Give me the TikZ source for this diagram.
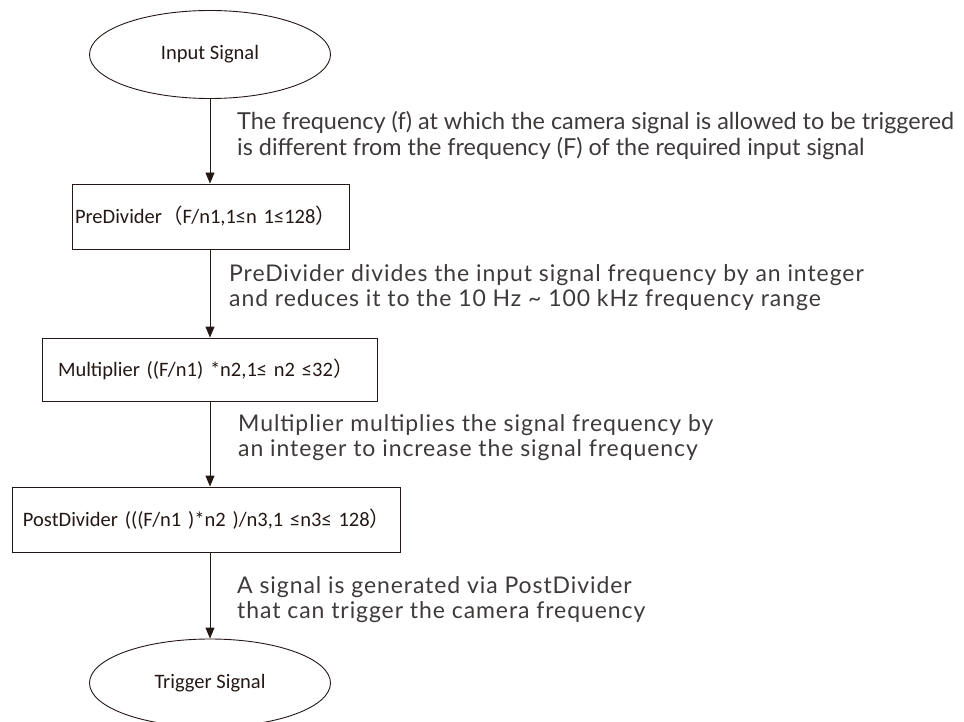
\documentclass[tikz,border=0pt]{standalone}
\usepackage{fontspec}
\setmainfont{Carlito}
\newfontfamily\labfont{Lato}
\newfontfamily\cjk{Noto Sans CJK SC}
\usetikzlibrary{arrows.meta,shapes.geometric}
\definecolor{ink}{HTML}{231815}
\definecolor{labgray}{HTML}{3E3A39}
\begin{document}
\begin{tikzpicture}[x=1pt,y=-1pt,
  flow/.style={draw=ink, line width=0.9pt, -{Triangle[length=11pt,width=9pt]}},
  term/.style={draw=ink, line width=0.9pt, ellipse, inner sep=0pt,
    minimum width=241pt, minimum height=88pt, text=ink,
    font=\fontsize{20.5}{24}\selectfont},
  stage/.style={draw=ink, line width=0.9pt, rectangle, align=left, text=ink,
    font=\fontsize{20.5}{24}\selectfont, inner ysep=0pt},
  note/.style={anchor=north west, align=left, inner sep=0pt, text=labgray},
  note1/.style={note, font=\labfont\fontsize{23.4}{26}\selectfont},
  note2/.style={note, font=\labfont\addfontfeature{LetterSpace=4}\fontsize{23}{25.5}\selectfont}
]
\useasboundingbox (0,0) rectangle (964,722);
\begin{scope}
\clip (0,0) rectangle (964,722);
\node[term] (input) at (210,54.5) {Input Signal};
\node[stage, minimum height=65pt, text width=271pt, inner xsep=3pt] (pre) at (210.5,216.5)
  {\mbox{PreDivider{\cjk （}F/n1,1≤n 1≤128{\cjk ）}}};
\node[stage, minimum height=63pt, text width=303pt, inner xsep=16pt] (mul) at (209.5,369.5)
  {\mbox{Multiplier ((F/n1)\ *n2,1≤ n2 ≤32{\cjk ）}}};
\node[stage, minimum height=65pt, text width=366pt, inner xsep=11pt] (post) at (206,519.5)
  {\mbox{PostDivider (((F/n1 )*n2 )/n3,1 ≤n3≤ 128{\cjk ）}}};
\node[term] (trig) at (210,683) {Trigger Signal};

\draw[flow] (input.south) -- (input |- pre.north);
\draw[flow] (pre.south -| input) -- (input |- mul.north);
\draw[flow] (mul.south -| input) -- (input |- post.north);
\draw[flow] (post.south -| input) -- (trig.north);

\node[note1] (n1) at (237,111) {The frequency (f) at which the camera signal is allowed to be triggered\\is different from the frequency (F) of the required input signal};
\node[note2] (n2) at (229,264) {PreDivider divides the input signal frequency by an integer\\and reduces it to the 10 Hz \textasciitilde{} 100 kHz frequency range};
\node[note2] (n3) at (238,414) {Multiplier multiplies the signal frequency by\\an integer to increase the signal frequency};
\node[note2] (n4) at (237,576) {A signal is generated via PostDivider\\that can trigger the camera frequency};
\end{scope}
\end{tikzpicture}
\end{document}
